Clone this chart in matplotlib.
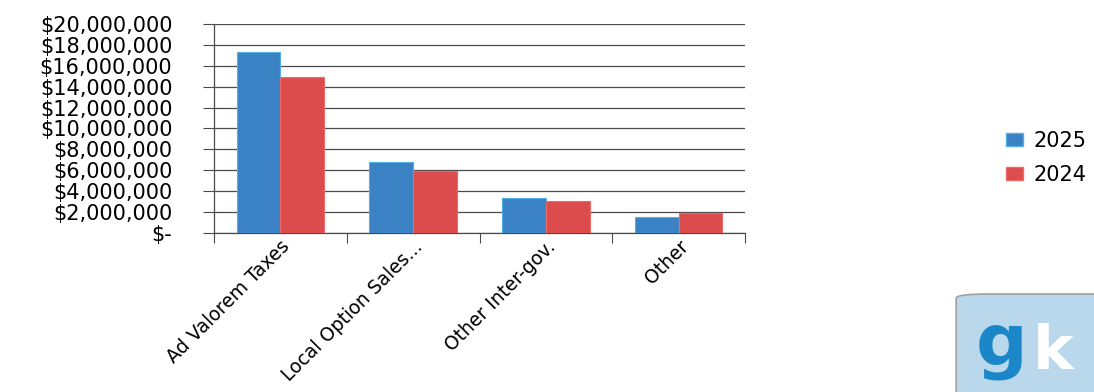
import matplotlib
matplotlib.use("Agg")
import matplotlib.pyplot as plt
from matplotlib.patches import FancyBboxPatch, Patch
from matplotlib.ticker import FuncFormatter, MultipleLocator, FixedLocator
import numpy as np

categories = ["Ad Valorem Taxes", "Local Option Sales...", "Other Inter-gov.", "Other"]
revenue_2025 = [17_350_000, 6_800_000, 3_350_000, 1_500_000]
revenue_2024 = [14_950_000, 5_950_000, 3_100_000, 1_880_000]
series_labels = ["2025", "2024"]

BLUE = "#3b82c4"
BLUE_EDGE = "#4fb0e6"
RED = "#dc4c4c"
RED_EDGE = "#ec6a6a"
GRID = "#4a4a4a"
FONT = "DejaVu Sans"


def money(v, _pos):
    if v == 0:
        return "$-"
    return f"${v:,.0f}"


fig = plt.figure(figsize=(10.94, 3.92), dpi=100)
ax = fig.add_axes([0.1956, 0.4056, 0.4854, 0.5332])

x = np.arange(len(categories))
w = 0.33
ax.bar(x - w / 2, revenue_2025, width=w, color=BLUE, edgecolor=BLUE_EDGE,
       linewidth=0.8, zorder=3)
ax.bar(x + w / 2, revenue_2024, width=w, color=RED, edgecolor=RED_EDGE,
       linewidth=0.8, zorder=3)

ax.set_xlim(-0.5, len(categories) - 0.5)
ax.set_ylim(0, 20_000_000)

ax.yaxis.set_major_locator(MultipleLocator(2_000_000))
ax.yaxis.set_major_formatter(FuncFormatter(money))
ax.tick_params(axis="y", length=8, width=0.8, color=GRID, pad=22,
               labelsize=15)
for lbl in ax.get_yticklabels():
    lbl.set_family(FONT)

# category labels at the centres, tick marks on the boundaries
ax.set_xticks(x)
ax.set_xticklabels(categories, rotation=45, ha="right", rotation_mode="anchor",
                   fontsize=13.5, family=FONT)
ax.tick_params(axis="x", which="major", length=0, pad=3)
ax.xaxis.set_minor_locator(FixedLocator(np.arange(-0.5, len(categories), 1.0)))
ax.tick_params(axis="x", which="minor", length=7, width=0.8, color=GRID,
               direction="out")

ax.grid(True, axis="y", color=GRID, linewidth=0.9, zorder=0)
for side in ("top", "right"):
    ax.spines[side].set_visible(False)
for side in ("left", "bottom"):
    ax.spines[side].set_color(GRID)
    ax.spines[side].set_linewidth(0.9)

handles = [Patch(facecolor=BLUE, edgecolor=BLUE_EDGE),
           Patch(facecolor=RED, edgecolor=RED_EDGE)]
fig.legend(handles, series_labels, loc="center left",
           bbox_to_anchor=(0.902, 0.597), frameon=False,
           prop={"family": FONT, "size": 15},
           handlelength=0.85, handleheight=0.6, handletextpad=0.5,
           labelspacing=0.65)

# small "gk" badge in the lower right corner
badge = FancyBboxPatch((0.874, -0.05), 0.16, 0.30,
                       boxstyle="round,pad=0,rounding_size=0.03",
                       transform=fig.transFigure, facecolor="#b9d8ec",
                       edgecolor="#a0a0a0", linewidth=1.2, mutation_aspect=3.92 / 10.94)
fig.patches.append(badge)
fig.text(0.916, 0.115, "g", transform=fig.transFigure, fontsize=52,
         fontweight="bold", color="#1b86c8", ha="center", va="center",
         family=FONT)
fig.text(0.963, 0.10, "k", transform=fig.transFigure, fontsize=44,
         fontweight="bold", color="white", ha="center", va="center",
         family=FONT)

fig.savefig("out.png", dpi=100)
plt.close(fig)
